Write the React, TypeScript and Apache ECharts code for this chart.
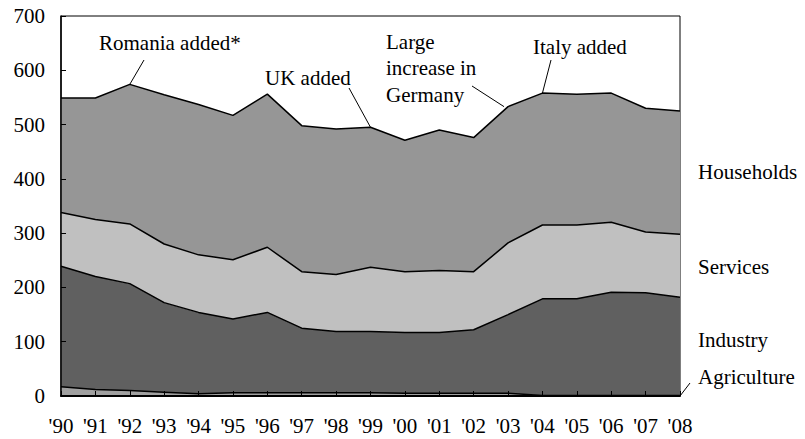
import React, { useEffect, useRef } from "react";
import * as echarts from "echarts";

const years = ["'90", "'91", "'92", "'93", "'94", "'95", "'96", "'97", "'98", "'99", "'00", "'01", "'02", "'03", "'04", "'05", "'06", "'07", "'08"];
const agriculture = [17, 12, 10, 7, 4, 6, 6, 6, 6, 6, 5, 5, 5, 5, 1, 1, 1, 1, 1];
const industry = [222, 208, 197, 165, 150, 136, 148, 119, 113, 113, 112, 112, 117, 145, 178, 178, 190, 189, 181];
const services = [99, 105, 110, 108, 106, 109, 120, 104, 105, 118, 112, 114, 107, 132, 136, 136, 129, 112, 116];
const households = [211, 224, 257, 275, 277, 266, 282, 269, 268, 258, 242, 259, 247, 251, 243, 241, 238, 228, 227];

const seriesNames = ["Agriculture", "Industry", "Services", "Households"];
const seriesColors = ["#a0a0a0", "#606060", "#c0c0c0", "#969696"];

const FONT = "Liberation Serif";

export default function App() {
  const ref = useRef<HTMLDivElement>(null);
  useEffect(() => {
    if (!ref.current) return;
    const chart = echarts.init(ref.current, undefined, { renderer: "svg" });
    const data = [agriculture, industry, services, households];
    chart.setOption({
      animation: false,
      backgroundColor: "#ffffff",
      textStyle: { fontFamily: FONT },
      grid: { left: 61, right: 125, top: 16, bottom: 43, show: true, borderColor: "#000", borderWidth: 1, backgroundColor: "transparent" },
      xAxis: {
        type: "category",
        data: years,
        boundaryGap: false,
        axisLine: { lineStyle: { color: "#000", width: 2 } },
        axisTick: { inside: true, length: 5, lineStyle: { color: "#000", width: 1 } },
        axisLabel: { color: "#000", fontSize: 21, fontFamily: FONT, margin: 19, interval: 0 },
        splitLine: { show: false },
        z: 10,
      },
      yAxis: {
        type: "value",
        min: 0,
        max: 700,
        interval: 100,
        axisLine: { show: true, lineStyle: { color: "#000", width: 1.5 } },
        axisTick: { show: true, inside: true, length: 5, lineStyle: { color: "#000", width: 1 } },
        axisLabel: { color: "#000", fontSize: 21, fontFamily: FONT, margin: 16 },
        splitLine: { show: false },
        z: 10,
      },
      series: seriesNames.map((name, i) => ({
        name,
        type: "line",
        stack: "total",
        data: data[i],
        symbol: "none",
        lineStyle: { color: "#000", width: 1.5 },
        areaStyle: { color: seriesColors[i], opacity: 1 },
      })),
    });

    const totals = years.map((_, i) => agriculture[i] + industry[i] + services[i] + households[i]);
    const px = (idx: number, v: number) => chart.convertToPixel({ gridIndex: 0 }, [idx, v]) as number[];
    const p92 = px(2, totals[2]);
    const p99 = px(9, totals[9]);
    const p03 = px(13, totals[13]);
    const p04 = px(14, totals[14]);
    const p08 = px(18, 0);
    const lineStyle = { stroke: "#000", lineWidth: 1 };
    const txt = (text: string, x: number, y: number) => ({
      type: "text",
      x,
      y,
      style: { text, fill: "#000", fontSize: 21, fontFamily: FONT, textVerticalAlign: "middle" },
    });
    chart.setOption({
      graphic: [
        txt("Romania added*", 99, 43),
        { type: "line", shape: { x1: 144, y1: 60, x2: p92[0], y2: p92[1] }, style: lineStyle },
        txt("UK added", 265, 78),
        { type: "line", shape: { x1: 349, y1: 88, x2: p99[0], y2: p99[1] }, style: lineStyle },
        txt("Large", 386, 42),
        txt("increase in", 386, 68),
        txt("Germany", 386, 95),
        { type: "line", shape: { x1: 472, y1: 86, x2: p03[0] - 4, y2: p03[1] }, style: lineStyle },
        txt("Italy added", 533, 47),
        { type: "line", shape: { x1: 551, y1: 60, x2: p04[0], y2: p04[1] }, style: lineStyle },
        txt("Households", 698, 172),
        txt("Services", 698, 267),
        txt("Industry", 698, 340),
        txt("Agriculture", 698, 377),
        { type: "line", shape: { x1: p08[0], y1: p08[1], x2: 690, y2: 383 }, style: lineStyle },
      ],
    });
    return () => chart.dispose();
  }, []);
  return <div ref={ref} style={{ position: "fixed", left: 0, top: 0, width: 805, height: 439 }} />;
}
